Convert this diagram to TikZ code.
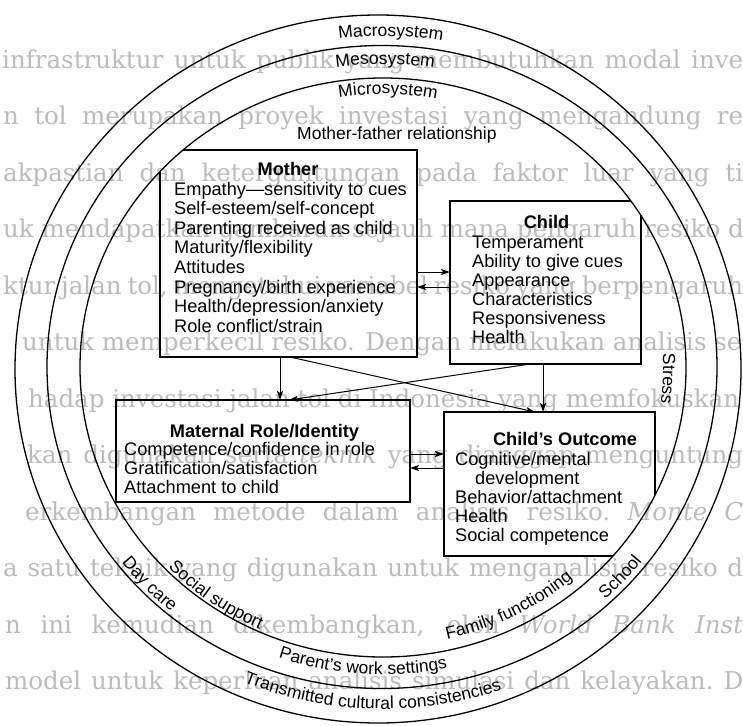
\documentclass[tikz,border=0pt]{standalone}
\usepackage{fontspec}
\setmainfont{Liberation Sans}
\newfontfamily\bgserif{DejaVu Serif}
\usetikzlibrary{arrows.meta,decorations.text}
\definecolor{bleed}{RGB}{188,188,188}
\newcommand\boxfont{\fontsize{18.2}{18.2}\selectfont}
\newcommand\lblfont{\fontsize{17.5}{17.5}\selectfont}
\newcommand\bgfont{\bgserif\fontsize{24.5}{24.5}\selectfont}
\newcommand\bgl[5]{\node[bgtext] (#1) at (#2,#3) {\hbox to #4pt{\spaceskip=0.318em plus 3em minus 0.12em\xspaceskip=\spaceskip #5}};}
\newcommand\bgn[4]{\node[bgtext] (#1) at (#2,#3) {#4};}
\newcommand\toplbl[4]{%
  \pgfmathsetmacro\lsa{#1-45}\pgfmathsetmacro\lea{#1+45}%
  \path[decorate,decoration={text along path,text={|\lblfont|#4},text align=center}]
    (383,368) ++(\lsa:#2 and #3) arc[start angle=\lsa,end angle=\lea,x radius=#2,y radius=#3];}
\newcommand\botlbl[4]{%
  \pgfmathsetmacro\lsa{#1+45}\pgfmathsetmacro\lea{#1-45}%
  \path[decorate,decoration={text along path,text={|\lblfont|#4},text align=center}]
    (383,368) ++(\lsa:#2 and #3) arc[start angle=\lsa,end angle=\lea,x radius=#2,y radius=#3];}
\begin{document}
\begin{tikzpicture}[x=1pt,y=-1pt,
  ring/.style={line width=1.3pt},
  boxline/.style={line width=1.2pt},
  arr/.style={line width=1pt,-{Stealth[length=9pt,width=6pt,inset=2pt]}},
  boxnode/.style={draw=none,inner sep=0pt,outer sep=0pt},
  txt/.style={anchor=base west,inner sep=0pt,font=\boxfont},
  ttl/.style={anchor=base,inner sep=0pt,font=\boxfont\bfseries},
  bgtext/.style={anchor=base west,inner sep=0pt,font=\bgfont,text=bleed}]
\path[use as bounding box,fill=white] (0,0) rectangle (743,725);
% bleed-through text of the scanned page
\begin{scope}
\clip (0,0) rectangle (743,725);
\bgl{bg1}{2}{68}{741}{infrastruktur untuk publik yang membutuhkan modal inve}
\bgl{bg2}{3}{124.5}{740}{n tol merupakan proyek investasi yang mengandung re}
\bgl{bg3}{3}{181}{740}{akpastian dan ketergantungan pada faktor luar yang ti}
\bgn{bg4}{3}{237.5}{uk mendapatkan gambaran sejauh mana pengaruh resiko d}
\bgl{bg5}{3}{294}{740}{ktur jalan tol, mengetahui variabel resiko yang berpengaruh}
\bgn{bg6}{22}{350.5}{untuk memperkecil resiko. Dengan melakukan analisis se}
\bgn{bg7}{28}{407}{hadap investasi jalan tol di Indonesia yang memfokuskan}
\bgl{bg8}{27}{463.5}{716}{kan digunakan serta \textit{teknik} yang dianggap menguntung}
\bgl{bg9}{25}{520}{718}{erkembangan metode dalam analisis resiko. \textit{Monte C}}
\bgl{bg10}{3}{576.5}{740}{a satu teknik yang digunakan untuk menganalisis resiko d}
\bgl{bg11}{5}{633}{738}{n ini kemudian dikembangkan, oleh \textit{World Bank Inst}}
\bgl{bg12}{5}{689.5}{738}{model untuk keperluan analisis simulasi dan kelayakan. D}
\end{scope}
% system rings
\begin{scope}
\clip (0,0) rectangle (743,725);
\draw[ring] (378,369) ellipse [x radius=363, y radius=354];
\draw[ring] (382,367) ellipse [x radius=335, y radius=321.5];
\draw[ring] (383,367.5) ellipse [x radius=303, y radius=289.5];
\end{scope}
% boxes
\node[boxnode,minimum width=257pt,minimum height=207pt] (mother) at (288.5,253.5) {};
\node[boxnode,minimum width=191pt,minimum height=163pt] (child) at (545.5,282.5) {};
\node[boxnode,minimum width=294pt,minimum height=102pt] (maternal) at (263,451) {};
\node[boxnode,minimum width=211pt,minimum height=144pt] (outcome) at (549.5,484) {};
\begin{scope}
\clip (383,367.5) ellipse [x radius=303, y radius=289.5];
\draw[boxline] (mother.north west) rectangle (mother.south east);
\draw[boxline] (child.north west) rectangle (child.south east);
\draw[boxline] (maternal.north west) rectangle (maternal.south east);
\draw[boxline] (outcome.north west) rectangle (outcome.south east);
\end{scope}
% box texts
\node[ttl] (motherT) at (288,175) {Mother};
\foreach \t [count=\i from 0] in {Empathy—sensitivity to cues,Self-esteem/self-concept,Parenting received as child,Maturity/flexibility,Attitudes,Pregnancy/birth experience,Health/depression/anxiety,Role conflict/strain}
  \node[txt] (mo\i) at (174,195+19.6*\i) {\t};
\node[ttl] (childT) at (546.5,228) {Child};
\foreach \t [count=\i from 0] in {Temperament,Ability to give cues,Appearance,Characteristics,Responsiveness,Health}
  \node[txt] (ch\i) at (472,248+19*\i) {\t};
\node[ttl] (maternalT) at (264.5,437) {Maternal Role/Identity};
\foreach \t [count=\i from 0] in {Competence/confidence in role,Gratification/satisfaction,Attachment to child}
  \node[txt] (ma\i) at (124,455+19*\i) {\t};
\node[ttl] (outcomeT) at (565,445) {Child's Outcome};
\node[txt] (oc0) at (455,465) {Cognitive/mental};
\node[txt] (oc1) at (475,484) {development};
\node[txt] (oc2) at (455,503) {Behavior/attachment};
\node[txt] (oc3) at (455,522) {Health};
\node[txt] (oc4) at (455,541) {Social competence};
\node[txt,font=\lblfont] (mf) at (297,139) {Mother-father relationship};
% connectors
\coordinate (r1) at (0,272); \coordinate (r2) at (0,287);
\coordinate (r3) at (0,454); \coordinate (r4) at (0,468);
\coordinate (v1) at (280,0); \coordinate (v2) at (289,0);
\coordinate (v3) at (290,0); \coordinate (v4) at (530,0);
\coordinate (v5) at (535,0); \coordinate (v6) at (543,0);
\draw[arr] (mother.east |- r1) -- (child.west |- r1);
\draw[arr] (child.west |- r2) -- (mother.east |- r2);
\draw[arr] (mother.south -| v1) -- (maternal.north -| v1);
\draw[arr] (child.south -| v4) -- (maternal.north -| v2);
\draw[arr] (mother.south -| v3) -- (outcome.north -| v5);
\draw[arr] (child.south -| v6) -- (outcome.north -| v6);
\draw[arr] (maternal.east |- r3) -- (outcome.west |- r3);
\draw[arr] (outcome.west |- r4) -- (maternal.east |- r4);
% ring labels
\toplbl{271.3}{347.5}{332}{Macrosystem}
\toplbl{270.4}{318}{304}{Mesosystem}
\toplbl{271}{286.8}{274}{Microsystem}
\toplbl{2.2}{280.2}{267.8}{Stress}
\botlbl{42.1}{328.8}{314.3}{School}
\botlbl{62.8}{290.8}{278}{Family functioning}
\botlbl{93.8}{320.6}{306.6}{Parent's work settings}
\botlbl{91.8}{357}{341}{Transmitted cultural consistencies}
\botlbl{125.6}{299.6}{286.5}{Social support}
\botlbl{136.5}{331.4}{317}{Day care}
\end{tikzpicture}
\end{document}
